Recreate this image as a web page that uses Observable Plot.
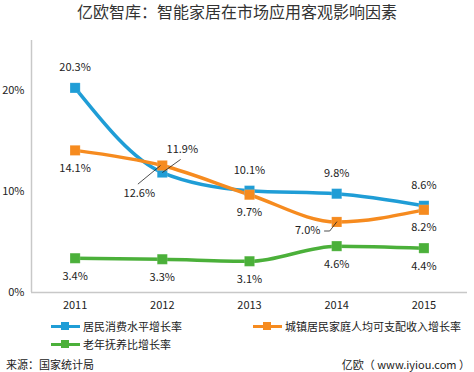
<!DOCTYPE html>
<html><head><meta charset="utf-8">
<script src="https://cdn.jsdelivr.net/npm/d3@7"></script>
<script src="https://cdn.jsdelivr.net/npm/@observablehq/plot@0.6"></script>
<style>
body{margin:0;background:#fff;font-family:"Noto Sans CJK SC","Noto Sans",sans-serif;color:#222;}
#wrap{width:474px;height:372px;position:relative;overflow:hidden;}
#title{height:30px;line-height:22px;text-align:center;font-size:16px;color:#333;}
.leg{position:absolute;font-size:11px;display:flex;align-items:center;color:#222;}
.sw{position:relative;width:29px;height:10px;margin-right:3px;}
.sw .ln{position:absolute;left:0;right:0;top:3.5px;height:3px;}
.sw .sq{position:absolute;left:10px;top:1px;width:8px;height:8px;}
#src{position:absolute;left:6px;top:356px;font-size:11px;}
#site{position:absolute;right:4px;top:356px;font-size:11px;}
</style></head>
<body><div id="wrap">
<div id="title">亿欧智库：智能家居在市场应用客观影响因素</div>
<div id="chart"></div>
<div class="leg" style="left:51px;top:318px"><div class="sw"><div class="ln" style="background:#1f9dd6"></div><div class="sq" style="background:#1f9dd6"></div></div>居民消费水平增长率</div>
<div class="leg" style="left:253px;top:318px"><div class="sw"><div class="ln" style="background:#f68b1f"></div><div class="sq" style="background:#f68b1f"></div></div>城镇居民家庭人均可支配收入增长率</div>
<div class="leg" style="left:51px;top:336px"><div class="sw"><div class="ln" style="background:#4bb03a"></div><div class="sq" style="background:#4bb03a"></div></div>老年抚养比增长率</div>
<div id="src">来源：国家统计局</div>
<div id="site">亿欧（ www.iyiou.com ）</div>
</div>
<script>
const years = [2011, 2012, 2013, 2014, 2015];
const consumption = [20.3, 11.9, 10.1, 9.8, 8.6];
const income = [14.1, 12.6, 9.7, 7.0, 8.2];
const elderly = [3.4, 3.3, 3.1, 4.6, 4.4];
const seriesNames = ["居民消费水平增长率", "城镇居民家庭人均可支配收入增长率", "老年抚养比增长率"];
const colors = ["#1f9dd6", "#f68b1f", "#4bb03a"];
const yTicks = [0, 10, 20];

const rows = [];
[consumption, income, elderly].forEach((vals, s) =>
  years.forEach((yr, i) => rows.push({series: seriesNames[s], year: yr, value: vals[i], idx: i, s})));

const fmt = v => v.toFixed(1) + "%";
const isSpecial = d => (d.s === 0 && d.year === 2012) || (d.s === 1 && (d.year === 2012 || d.year === 2014));
const normal = rows.filter(d => !isSpecial(d));

const blue12 = rows.find(d => d.s === 0 && d.year === 2012);
const orange12 = rows.find(d => d.s === 1 && d.year === 2012);
const orange14 = rows.find(d => d.s === 1 && d.year === 2014);

const font = '"Noto Sans CJK SC","Noto Sans",sans-serif';
const plot = Plot.plot({
  width: 474, height: 285,
  marginLeft: 31, marginRight: 7, marginTop: 10, marginBottom: 23,
  style: {fontFamily: font, fontSize: "11px", color: "#222", background: "transparent"},
  x: {domain: [2010.5, 2015.5], ticks: years, tickFormat: "d", tickSize: 0, tickPadding: 9, label: null},
  y: {domain: [0, 25], ticks: yTicks, tickFormat: d => d + "%", tickSize: 0, tickPadding: 7, label: null},
  color: {domain: seriesNames, range: colors},
  marks: [
    Plot.ruleY([0], {stroke: "#c8c8c8", strokeWidth: 1.5}),
    Plot.ruleX([2010.5], {stroke: "#c8c8c8", strokeWidth: 1.5}),
    Plot.line(rows, {x: "year", y: "value", z: "series", stroke: "series", strokeWidth: 3.5, curve: "monotone-x"}),
    Plot.dot(rows, {x: "year", y: "value", fill: "series", symbol: "square", r: 5.7, stroke: "white", strokeOpacity: 0.25, strokeWidth: 0.5}),
    Plot.text(normal.filter(d => d.s === 0), {x: "year", y: "value", text: d => fmt(d.value), dy: -20, fill: "#222"}),
    Plot.text(normal.filter(d => d.s !== 0), {x: "year", y: "value", text: d => fmt(d.value), dy: 18, fill: "#222"}),
    // leader lines
    Plot.link([blue12], {x1: "year", y1: "value", x2: d => d.year + 0.21, y2: d => d.value + 1.3, stroke: "#222", strokeWidth: 0.8}),
    Plot.link([orange12], {x1: d => d.year - 0.02, y1: "value", x2: d => d.year - 0.28, y2: d => d.value - 1.85, stroke: "#222", strokeWidth: 0.8}),
    Plot.line([[0, 0], [-0.08, -0.9], [-0.14, -0.9]].map(([dx, dy]) => ({x: orange14.year + dx, y: orange14.value + dy})), {x: "x", y: "y", stroke: "#222", strokeWidth: 0.8}),
    Plot.text([blue12], {x: "year", y: "value", text: d => fmt(d.value), dx: 20, dy: -23, fill: "#222"}),
    Plot.text([orange12], {x: "year", y: "value", text: d => fmt(d.value), dx: -23, dy: 28, fill: "#222"}),
    Plot.text([orange14], {x: "year", y: "value", text: d => fmt(d.value), dx: -29, dy: 9, fill: "#222"})
  ]
});
document.getElementById("chart").appendChild(plot);
</script>
</body></html>
